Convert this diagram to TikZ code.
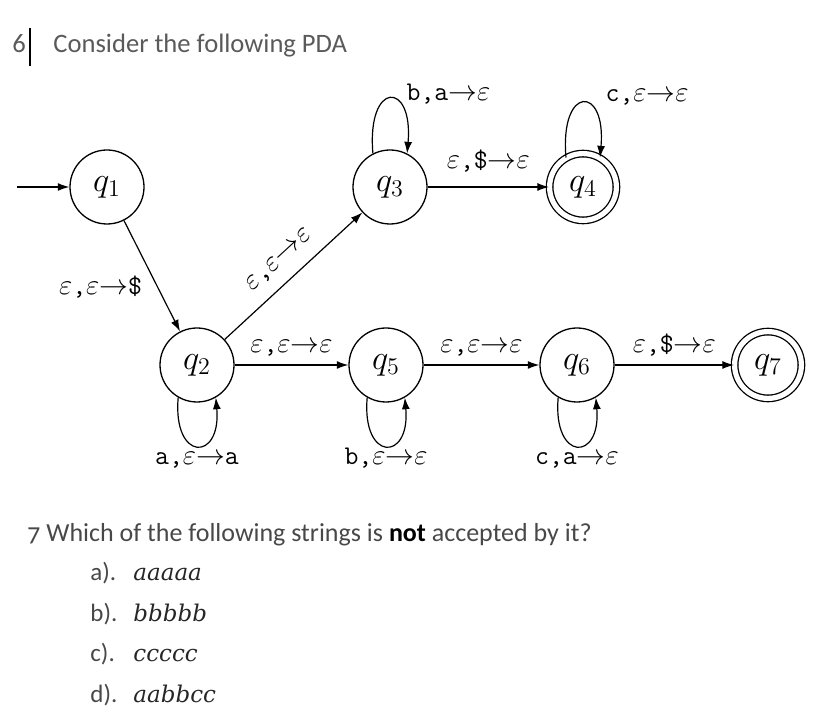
\documentclass[tikz,border=0pt]{standalone}
\usepackage{fontspec}
\setmainfont{Carlito}
\newfontfamily\strfont{DejaVu Serif}
\usetikzlibrary{arrows.meta}
\definecolor{headgray}{HTML}{5A5A5A}
\definecolor{textgray}{HTML}{484848}
\newcommand{\eps}{\ensuremath{\varepsilon}}
\newcommand{\arr}{\ensuremath{\rightarrow}}

\begin{document}
\begin{tikzpicture}[
  x=0.5pt,
  y=-0.5pt,
  line join=round,
  state/.style={draw=black,circle,line width=0.65pt,minimum size=37pt,inner sep=0pt,font=\fontsize{17}{17}\selectfont},
  accept/.style={state,double,double distance=2.6pt,minimum size=33.4pt},
  trans/.style={draw=black,line width=0.6pt,-{Latex[length=5.8pt,width=4pt]}},
  lbl/.style={font=\fontsize{13.5}{15}\selectfont,inner sep=2pt,text height=7pt,text depth=2pt},
  loopup/.style={out=95,in=85,looseness=5.5},
  loopdown/.style={out=265,in=275,looseness=4.4},
  heading/.style={font=\fontsize{13.3}{16}\selectfont,text=headgray,inner sep=0pt},
  question/.style={font=\fontsize{13}{15}\selectfont,text=textgray,inner sep=0pt},
  choice/.style={font=\fontsize{12.5}{15}\selectfont,text=textgray,inner sep=0pt},
  answer/.style={font=\strfont\itshape\fontsize{11.5}{14}\selectfont,text=black!85,inner sep=0pt}
]
  \useasboundingbox (0,0) rectangle (840,726);

  % Heading, with the text cursor after the number.
  \node[heading,anchor=base west] (num) at (12,53) {6};
  \draw[line width=0.6pt] (30,28) -- (30,66);
  \node[heading,anchor=base west] (title) at (53,53) {Consider the following PDA};

  % States of the automaton.
  \node[state] (q1) at (107,187) {$q_1$};
  \node[state] (q2) at (197,365) {$q_2$};
  \node[state] (q3) at (390,187) {$q_3$};
  \node[accept] (q4) at (583,187) {$q_4$};
  \node[state] (q5) at (386,365) {$q_5$};
  \node[state] (q6) at (577,365) {$q_6$};
  \node[accept] (q7) at (768,365) {$q_7$};

  \coordinate (start) at (17,187);
  \draw[trans] (start) -- (q1);

  % Transitions between states.
  \draw[trans] (q1) -- node[lbl,pos=0.62,left=6pt] (l12) {\eps\texttt{,}\eps\arr\texttt{\$}} (q2);
  \draw[trans] (q2) -- node[lbl,midway,sloped,above=4pt] (l23) {\eps\texttt{,}\eps\arr\eps} (q3);
  \draw[trans] (q3) -- node[lbl,midway,above=5pt] (l34) {\eps\texttt{,\$}\arr\eps} (q4);
  \draw[trans] (q2) -- node[lbl,midway,above=2pt] (l25) {\eps\texttt{,}\eps\arr\eps} (q5);
  \draw[trans] (q5) -- node[lbl,midway,above=2pt] (l56) {\eps\texttt{,}\eps\arr\eps} (q6);
  \draw[trans] (q6) -- node[lbl,midway,above=2pt] (l67) {\eps\texttt{,\$}\arr\eps} (q7);

  % Self-loops.
  \draw[trans] (q3.117) to[loopup] node[lbl,right=6pt,yshift=1.5pt] (l33) {\texttt{b,a}\arr\eps} (q3.63);
  \draw[trans] (q4.120) to[loopup] node[lbl,right=9pt,yshift=3pt] (l44) {\texttt{c,}\eps\arr\eps} (q4.60);
  \draw[trans] (q2.240) to[loopdown] node[lbl,below] (l22) {\texttt{a,}\eps\arr\texttt{a}} (q2.300);
  \draw[trans] (q5.240) to[loopdown] node[lbl,below] (l55) {\texttt{b,}\eps\arr\eps} (q5.300);
  \draw[trans] (q6.240) to[loopdown] node[lbl,below] (l66) {\texttt{c,a}\arr\eps} (q6.300);

  % Question and the four choices.
  \node[question,anchor=base west] (ask) at (27,541)
    {{\addfontfeatures{Numbers=OldStyle}7} Which of the following strings is {\bfseries\color{black}not} accepted by it?};
  \foreach \opt/\str [count=\i] in {a/aaaaa,b/bbbbb,c/ccccc,d/aabbcc} {
    \node[choice,anchor=base west] (opt\opt) at (90,{540.5+40.4*\i}) {\opt).};
    \node[answer,anchor=base west] (str\opt) at (133,{540.5+40.4*\i}) {\str};
  }
\end{tikzpicture}
\end{document}
